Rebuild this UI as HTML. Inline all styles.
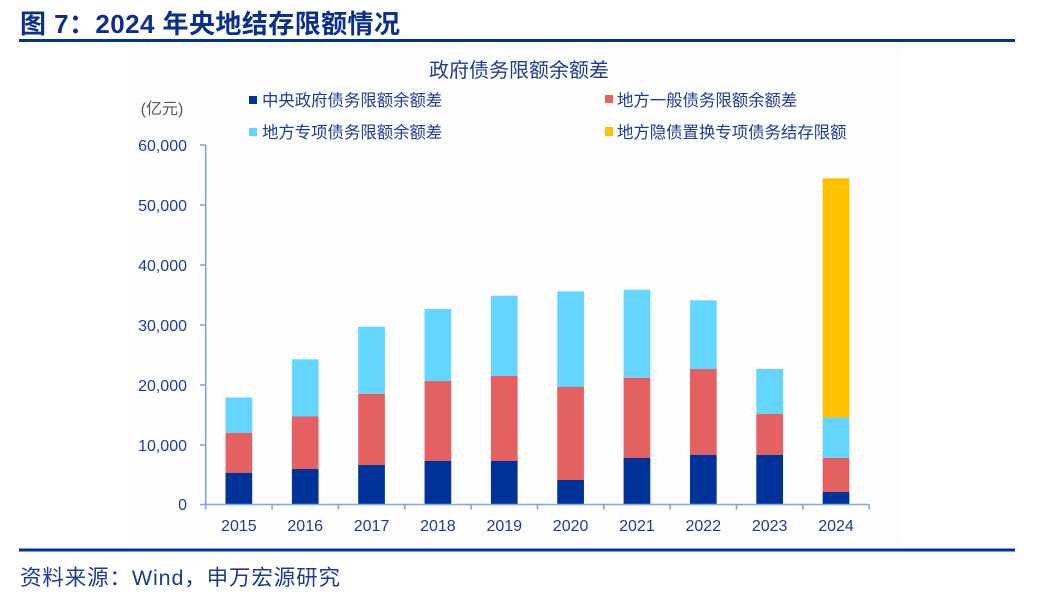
<!DOCTYPE html>
<html><head><meta charset="utf-8"><style>
html,body{margin:0;padding:0;background:#fff;}
svg{display:block;}
text{font-family:"Liberation Sans","Noto Sans CJK SC",sans-serif;}
</style></head><body>
<svg width="1040" height="602" viewBox="0 0 1040 602" xmlns="http://www.w3.org/2000/svg">
<rect x="0" y="0" width="1040" height="602" fill="#ffffff"/>
<rect x="130" y="45" width="770" height="500" fill="#fdfdfd"/>
<!-- Title -->
<text x="20" y="33" font-size="26" font-weight="bold" fill="#0b2f8c" textLength="380" lengthAdjust="spacing">图 7：2024 年央地结存限额情况</text>
<rect x="19" y="39" width="996" height="3" fill="#003399"/>
<!-- chart title -->
<text x="519" y="77" font-size="20" fill="#1f3d8e" text-anchor="middle">政府债务限额余额差</text>
<!-- unit -->
<text x="162" y="114" font-size="16" fill="#595959" text-anchor="middle">(亿元)</text>
<!-- legend -->
<rect x="249" y="96" width="8" height="8" fill="#003399"/>
<text x="262" y="106" font-size="16.4" fill="#1f3d8e">中央政府债务限额余额差</text>
<rect x="249" y="128" width="8" height="8" fill="#63d5ff"/>
<text x="262" y="138" font-size="16.4" fill="#1f3d8e">地方专项债务限额余额差</text>
<rect x="605" y="95" width="8" height="8" fill="#e56060"/>
<text x="617" y="106" font-size="16.4" fill="#1f3d8e">地方一般债务限额余额差</text>
<rect x="605" y="127" width="8" height="9" fill="#ffc000"/>
<text x="617" y="138" font-size="16.4" fill="#1f3d8e">地方隐债置换专项债务结存限额</text>
<!-- y labels -->
<g font-size="16" fill="#1f3d8e" text-anchor="end">
<text x="187" y="151">60,000</text>
<text x="187" y="211">50,000</text>
<text x="187" y="271">40,000</text>
<text x="187" y="331">30,000</text>
<text x="187" y="391">20,000</text>
<text x="187" y="451">10,000</text>
<text x="187" y="510">0</text>
</g>
<!-- bars -->
<g>
<rect x="225.5" y="472.7" width="26.7" height="31.3" fill="#003399"/>
<rect x="225.5" y="432.7" width="26.7" height="40" fill="#e56060"/>
<rect x="225.5" y="397.5" width="26.7" height="35.2" fill="#63d5ff"/>

<rect x="291.85" y="469" width="26.7" height="35" fill="#003399"/>
<rect x="291.85" y="416.5" width="26.7" height="52.5" fill="#e56060"/>
<rect x="291.85" y="359.3" width="26.7" height="57.2" fill="#63d5ff"/>

<rect x="358.2" y="465" width="26.7" height="39" fill="#003399"/>
<rect x="358.2" y="393.7" width="26.7" height="71.3" fill="#e56060"/>
<rect x="358.2" y="326.7" width="26.7" height="67" fill="#63d5ff"/>

<rect x="424.55" y="460.7" width="26.7" height="43.3" fill="#003399"/>
<rect x="424.55" y="381" width="26.7" height="79.7" fill="#e56060"/>
<rect x="424.55" y="309" width="26.7" height="72" fill="#63d5ff"/>

<rect x="490.9" y="461" width="26.7" height="43" fill="#003399"/>
<rect x="490.9" y="375.7" width="26.7" height="85.3" fill="#e56060"/>
<rect x="490.9" y="295.7" width="26.7" height="80" fill="#63d5ff"/>

<rect x="557.25" y="480" width="26.7" height="24" fill="#003399"/>
<rect x="557.25" y="387" width="26.7" height="93" fill="#e56060"/>
<rect x="557.25" y="291.3" width="26.7" height="95.7" fill="#63d5ff"/>

<rect x="623.6" y="458" width="26.7" height="46" fill="#003399"/>
<rect x="623.6" y="377.7" width="26.7" height="80.3" fill="#e56060"/>
<rect x="623.6" y="289.7" width="26.7" height="88" fill="#63d5ff"/>

<rect x="689.95" y="454.7" width="26.7" height="49.3" fill="#003399"/>
<rect x="689.95" y="369" width="26.7" height="85.7" fill="#e56060"/>
<rect x="689.95" y="300.3" width="26.7" height="68.7" fill="#63d5ff"/>

<rect x="756.3" y="454.7" width="26.7" height="49.3" fill="#003399"/>
<rect x="756.3" y="414" width="26.7" height="40.7" fill="#e56060"/>
<rect x="756.3" y="369" width="26.7" height="45" fill="#63d5ff"/>

<rect x="822.65" y="492" width="26.7" height="12" fill="#003399"/>
<rect x="822.65" y="458" width="26.7" height="34" fill="#e56060"/>
<rect x="822.65" y="417.3" width="26.7" height="40.7" fill="#63d5ff"/>
<rect x="822.65" y="178.3" width="26.7" height="239" fill="#ffc000"/>
</g>
<!-- axes -->
<g stroke="#7ea6dc" stroke-width="1.6" fill="none">
<line x1="205.7" y1="145" x2="205.7" y2="504.5"/>
<line x1="200" y1="504.5" x2="869.2" y2="504.5"/>
<line x1="200" y1="145" x2="205.7" y2="145"/>
<line x1="200" y1="205" x2="205.7" y2="205"/>
<line x1="200" y1="265" x2="205.7" y2="265"/>
<line x1="200" y1="325" x2="205.7" y2="325"/>
<line x1="200" y1="385" x2="205.7" y2="385"/>
<line x1="200" y1="445" x2="205.7" y2="445"/>
<line x1="205.7" y1="504.5" x2="205.7" y2="509.5"/>
<line x1="272.05" y1="504.5" x2="272.05" y2="509.5"/>
<line x1="338.4" y1="504.5" x2="338.4" y2="509.5"/>
<line x1="404.75" y1="504.5" x2="404.75" y2="509.5"/>
<line x1="471.1" y1="504.5" x2="471.1" y2="509.5"/>
<line x1="537.45" y1="504.5" x2="537.45" y2="509.5"/>
<line x1="603.8" y1="504.5" x2="603.8" y2="509.5"/>
<line x1="670.15" y1="504.5" x2="670.15" y2="509.5"/>
<line x1="736.5" y1="504.5" x2="736.5" y2="509.5"/>
<line x1="802.85" y1="504.5" x2="802.85" y2="509.5"/>
<line x1="869.2" y1="504.5" x2="869.2" y2="509.5"/>
</g>
<!-- x labels -->
<g font-size="16" fill="#1f3d8e" text-anchor="middle">
<text x="238.85" y="531">2015</text>
<text x="305.2" y="531">2016</text>
<text x="371.55" y="531">2017</text>
<text x="437.9" y="531">2018</text>
<text x="504.25" y="531">2019</text>
<text x="570.6" y="531">2020</text>
<text x="636.95" y="531">2021</text>
<text x="703.3" y="531">2022</text>
<text x="769.65" y="531">2023</text>
<text x="836" y="531">2024</text>
</g>
<!-- bottom line & source -->
<rect x="19" y="548.5" width="996" height="3" fill="#003399"/>
<text x="20" y="585" font-size="21.5" fill="#1f3d8e" textLength="320" lengthAdjust="spacing">资料来源：Wind，申万宏源研究</text>
</svg>
</body></html>
